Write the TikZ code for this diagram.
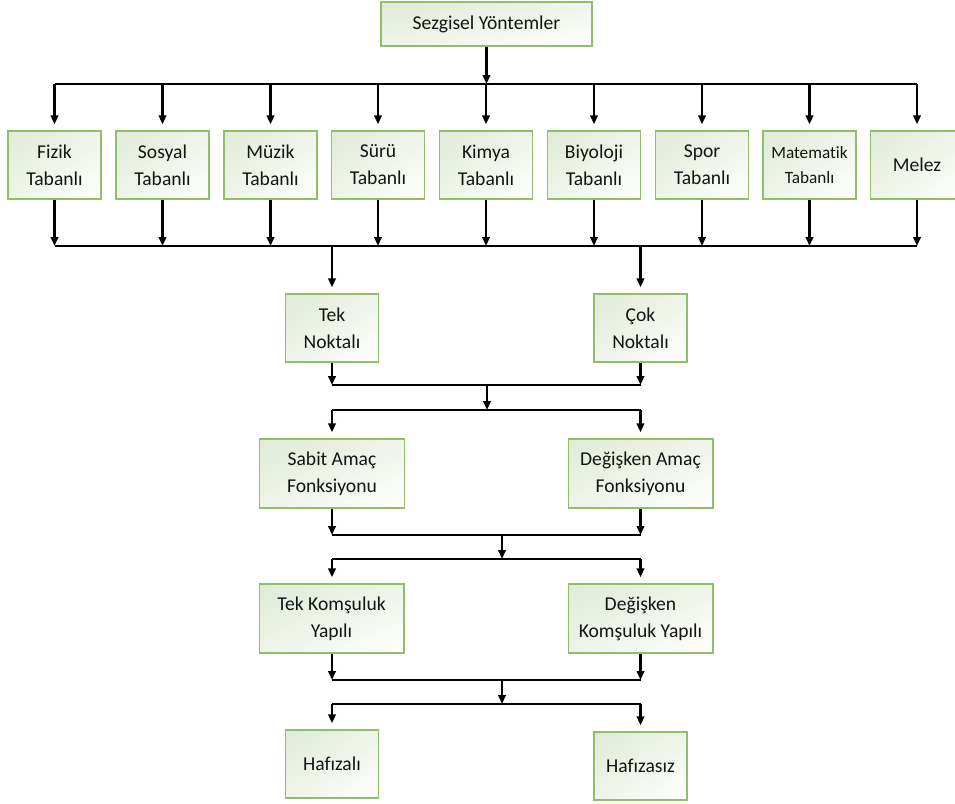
\documentclass[tikz,border=0pt]{standalone}
\usepackage{fontspec}
\setmainfont{Carlito}[Ligatures=NoCommon]
\usetikzlibrary{arrows.meta,shadings}
\definecolor{boxfill}{RGB}{224,235,215}
\definecolor{boxline}{RGB}{145,190,105}
\definecolor{ink}{RGB}{20,20,20}
\tikzset{
  catbox/.style={draw=boxline, line width=1pt, inner sep=0pt, align=center,
    text=ink, font=\fontsize{14.7}{20.3}\selectfont,
    upper left=boxfill, upper right=boxfill!55!white,
    lower left=boxfill!55!white, lower right=white},
  rowbox/.style={catbox, minimum width=69.75pt, minimum height=51pt},
  widebox/.style={catbox, minimum width=108.5pt, minimum height=51.75pt},
  bus/.style={draw=black, line width=1.8pt},
  feed/.style={bus, -{Triangle[length=6.75pt,width=5.6pt]}},
  tobox/.style={feed, shorten >=4.5pt}
}
\begin{document}
\begin{tikzpicture}[x=0.75pt, y=-0.75pt]
\useasboundingbox (0,0) rectangle (955,803);

% root
\node[catbox, minimum width=158.25pt, minimum height=33pt] (root) at (486.5,24) {Sezgisel Yöntemler};

% inspiration families
\node[rowbox] (f1) at (54.5,165) {Fizik\\Tabanlı};
\node[rowbox] (f2) at (162.5,165) {Sosyal\\Tabanlı};
\node[rowbox] (f3) at (270.5,165) {Müzik\\Tabanlı};
\node[rowbox] (f4) at (378,165) {Sürü\\Tabanlı};
\node[rowbox] (f5) at (486,165) {Kimya\\Tabanlı};
\node[rowbox] (f6) at (594,165) {Biyoloji\\Tabanlı};
\node[rowbox] (f7) at (702,165) {Spor\\Tabanlı};
\node[rowbox, font=\fontsize{12.9}{18.5}\selectfont] (f8) at (809.5,165) {Matematik\\Tabanlı};
\node[rowbox] (f9) at (917,165) {Melez};

% point count
\node[rowbox] (tek) at (332,328) {Tek\\Noktalı};
\node[rowbox] (cok) at (640.5,328) {Çok\\Noktalı};

% objective function
\node[widebox] (sabit) at (332,473.5) {Sabit Amaç\\Fonksiyonu};
\node[widebox] (degamac) at (640.5,473.5) {Değişken Amaç\\Fonksiyonu};

% neighbourhood structure
\node[widebox] (tekkom) at (331.5,618.5) {Tek Komşuluk\\Yapılı};
\node[widebox] (degkom) at (640.5,618.5) {Değişken\\Komşuluk Yapılı};

% memory
\node[rowbox] (hafizali) at (332,764) {Hafızalı};
\node[rowbox] (hafizasiz) at (640.5,766) {Hafızasız};

% bus lines
\coordinate (busA) at (486.5,84);
\coordinate (busB) at (486,246);
\coordinate (busC) at (487,385);
\coordinate (busD) at (487,410);
\coordinate (busE) at (502,535);
\coordinate (busF) at (502,559);
\coordinate (busG) at (502,680);
\coordinate (busH) at (502,704);

% root to families
\draw[feed] (root.south) -- (busA);
\draw[bus] (f1 |- busA) -- (f9 |- busA);
\foreach \n in {f1,f2,f3,f4,f5,f6,f7,f8,f9}
  \draw[tobox] (\n |- busA) -- (\n.north);

% families to point count
\foreach \n in {f1,f2,f3,f4,f5,f6,f7,f8,f9}
  \draw[feed] (\n.south) -- (\n |- busB);
\draw[bus] (f1 |- busB) -- (f9 |- busB);
\draw[tobox] (tek |- busB) -- (tek.north);
\draw[tobox] (cok |- busB) -- (cok.north);

% point count to objective function
\draw[feed] (tek.south) -- (tek |- busC);
\draw[feed] (cok.south) -- (cok |- busC);
\draw[bus] (tek |- busC) -- (cok |- busC);
\draw[feed] (busC) -- (busD);
\draw[bus] (sabit |- busD) -- (degamac |- busD);
\draw[tobox] (sabit |- busD) -- (sabit.north);
\draw[tobox] (degamac |- busD) -- (degamac.north);

% objective function to neighbourhood structure
\draw[feed] (sabit.south) -- (sabit |- busE);
\draw[feed] (degamac.south) -- (degamac |- busE);
\draw[bus] (sabit |- busE) -- (degamac |- busE);
\draw[feed] (busE) -- (busF);
\draw[bus] (sabit |- busF) -- (degamac |- busF);
\draw[tobox] (sabit |- busF) -- (tekkom.north -| sabit);
\draw[tobox] (degkom |- busF) -- (degkom.north);

% neighbourhood structure to memory
\draw[feed] (sabit |- tekkom.south) -- (sabit |- busG);
\draw[feed] (degkom.south) -- (degkom |- busG);
\draw[bus] (sabit |- busG) -- (degkom |- busG);
\draw[feed] (busG) -- (busH);
\draw[bus] (hafizali |- busH) -- (hafizasiz |- busH);
\draw[tobox] (hafizali |- busH) -- (hafizali.north);
\draw[tobox] (hafizasiz |- busH) -- (hafizasiz.north);
\end{tikzpicture}
\end{document}
